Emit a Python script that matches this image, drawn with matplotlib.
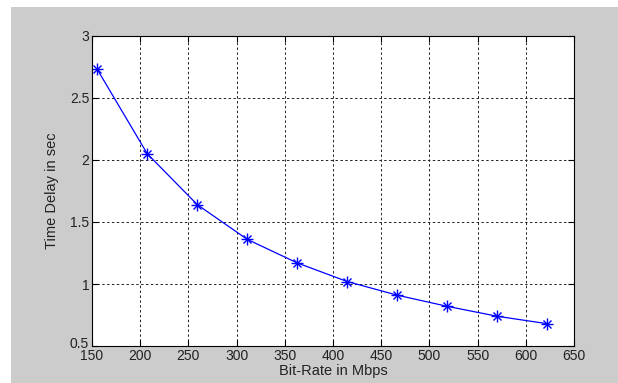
import matplotlib
matplotlib.use("Agg")
import matplotlib.pyplot as plt
from matplotlib.patches import Rectangle
from matplotlib.transforms import ScaledTranslation

bit_rate = [155.52, 207.36, 259.2, 311.04, 362.88, 414.72, 466.56, 518.4, 570.24, 622.08]
time_delay = [2.73, 2.05, 1.64, 1.36, 1.17, 1.02, 0.91, 0.82, 0.74, 0.68]
x_ticks = [150, 200, 250, 300, 350, 400, 450, 500, 550, 600, 650]
y_ticks = [0.5, 1, 1.5, 2, 2.5, 3]
y_tick_labels = ["0.5", "1", "1.5", "2", "2.5", "3"]

plt.rcParams['font.family'] = ['Liberation Sans', 'DejaVu Sans']

fig = plt.figure(figsize=(6.18, 3.83), dpi=100, facecolor='white')
fig.patches.append(Rectangle((11/618, 0), 1 - 11/618, 1 - 7/383, transform=fig.transFigure,
                             facecolor='#cccccc', edgecolor='none', zorder=-10))

ax = fig.add_axes([92/618, 1 - 346/383, (574 - 92)/618, (346 - 36)/383])
ax.set_facecolor('white')
ax.plot(bit_rate, time_delay, color='blue', lw=0.9)
ax.plot(bit_rate, time_delay, color='blue', lw=0, marker='+', markersize=8, markeredgewidth=1.0)
ax.plot(bit_rate, time_delay, color='blue', lw=0, marker='x', markersize=5.5, markeredgewidth=1.0)
ax.set_xlim(150, 650)
ax.set_ylim(0.5, 3)
ax.set_xticks(x_ticks)
ax.set_yticks(y_ticks)
ax.set_yticklabels(y_tick_labels)
ax.grid(True, color='#222222', linestyle=(0, (2.5, 2.5)), linewidth=0.7)
ax.tick_params(direction='in', length=4, top=True, right=True, labelsize=10,
               colors='black', pad=2, labelcolor='#222222')
for s in ax.spines.values():
    s.set_linewidth(0.8)
    s.set_color('black')
ax.set_xlabel('Bit-Rate in Mbps', fontsize=10.5, color='#222222', labelpad=1)
ax.set_ylabel('Time Delay in sec', fontsize=10.5, color='#222222', labelpad=8)

fig.canvas.draw()
lab0 = ax.get_yticklabels()[0]
lab0.set_transform(lab0.get_transform() + ScaledTranslation(0, 3/100, fig.dpi_scale_trans))

fig.savefig('out.png', dpi=100, facecolor=fig.get_facecolor())
